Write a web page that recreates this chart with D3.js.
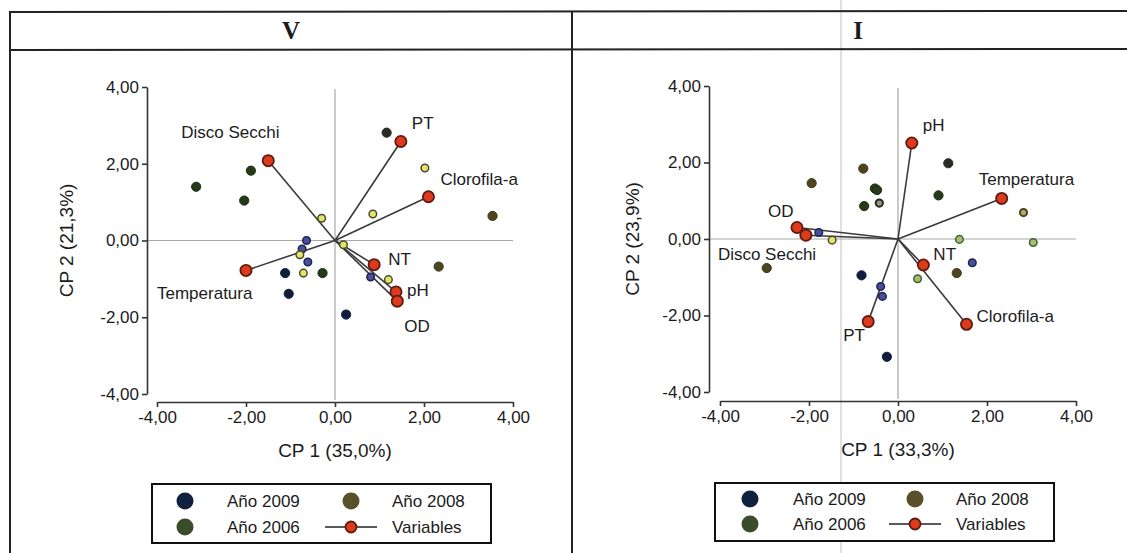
<!DOCTYPE html>
<html>
<head>
<meta charset="utf-8">
<title>CP 1 / CP 2 - V e I</title>
<script src="https://d3js.org/d3.v7.min.js" charset="utf-8"></script>
<style>
  body { margin: 0; background: #fff; }
  text { font-family: "Liberation Sans", Arial, sans-serif; fill: #1b1b1b; }
</style>
</head>
<body>
<script>
// ---- data ----
var panelTitles = ["V", "I"];
var axisTicks = [-4, -2, 0, 2, 4];
var xTitles = ["CP 1 (35,0%)", "CP 1 (33,3%)"];
var yTitles = ["CP 2 (21,3%)", "CP 2 (23,9%)"];

// panel V: variables (loadings)
var varNamesV = ["Disco Secchi", "PT", "Clorofila-a", "NT", "pH", "OD", "Temperatura"];
var varCP1V = [-1.50, 1.48, 2.10, 0.88, 1.37, 1.40, -2.00];
var varCP2V = [2.08, 2.58, 1.14, -0.63, -1.34, -1.58, -0.78];

// panel V: observations
var obsCP1V = [-3.12, -1.89, -2.04, -0.28, 1.16, 3.54, 2.33, -1.12, -1.04, 0.25, -0.64, -0.74, -0.61, 0.80, 2.02, 0.85, -0.30, 0.19, -0.79, -0.71, 1.20];
var obsCP2V = [1.40, 1.82, 1.04, -0.85, 2.81, 0.64, -0.68, -0.85, -1.39, -1.93, 0.00, -0.22, -0.56, -0.95, 1.89, 0.69, 0.58, -0.11, -0.37, -0.85, -1.02];
var obsTypeV = ["g", "g", "g", "g", "k", "o", "o", "n", "n", "n", "b", "b", "b", "b", "y", "y", "y", "y", "y", "y", "y"];

// panel I: variables
var varNamesI = ["pH", "Temperatura", "NT", "Clorofila-a", "PT", "OD", "Disco Secchi"];
var varCP1I = [0.31, 2.33, 0.57, 1.54, -0.67, -2.27, -2.07];
var varCP2I = [2.51, 1.06, -0.68, -2.23, -2.16, 0.30, 0.10];

// panel I: observations
var obsCP1I = [-1.94, -0.78, -2.95, 1.32, 2.82, -0.52, -0.47, -0.76, 0.91, -0.42, 1.13, -0.82, -0.25, -1.78, -0.39, -0.35, 1.67, -1.48, 1.38, 3.04, 0.44];
var obsCP2I = [1.46, 1.84, -0.76, -0.89, 0.69, 1.32, 1.28, 0.86, 1.14, 0.94, 1.98, -0.95, -3.08, 0.17, -1.24, -1.50, -0.62, -0.03, -0.01, -0.09, -1.04];
var obsTypeI = ["o", "o", "o", "o", "or", "g", "g", "g", "g", "gr", "k", "n", "n", "b", "b", "b", "b", "y", "lg", "lg", "lg"];

var legendLabels = ["Año 2009", "Año 2008", "Año 2006", "Variables"];

// ---- styles ----
var pointStyle = {
  n:  {fill: "#111d3d", stroke: "#111d3d", r: 4.6, sw: 1},
  o:  {fill: "#4c4620", stroke: "#3e3918", r: 4.6, sw: 1},
  g:  {fill: "#263a1a", stroke: "#1e2f14", r: 4.6, sw: 1},
  k:  {fill: "#2a2a26", stroke: "#2a2a26", r: 4.6, sw: 1},
  b:  {fill: "#4a4f99", stroke: "#1b2550", r: 3.8, sw: 1.5},
  y:  {fill: "#e4e46c", stroke: "#4a4a2c", r: 3.8, sw: 1.5},
  lg: {fill: "#a3bd74", stroke: "#43602e", r: 3.8, sw: 1.5},
  or: {fill: "#b0a870", stroke: "#4c4620", r: 3.6, sw: 2},
  gr: {fill: "#9a9a80", stroke: "#222c18", r: 3.6, sw: 2}
};
var legendColors = ["#10203f", "#585028", "#3a4c2a"];
var varFill = "#dd3a1e", varStroke = "#5c1c10";

var fmt = d3.formatLocale({decimal: ",", thousands: ".", grouping: [3], currency: ["", ""], minus: "-"}).format(".2f");

var W = 1127, H = 553;
var svg = d3.select("body").append("svg").attr("width", W).attr("height", H);

// scan fold line (faint)
svg.append("line").attr("x1", 841).attr("x2", 841).attr("y1", 0).attr("y2", H)
  .style("stroke", "#d6d6d6").style("stroke-width", 1.5);

// table frame
svg.append("line").attr("x1", 10).attr("x2", W).attr("y1", 12).attr("y2", 11).style("stroke", "#222").style("stroke-width", 2);
svg.append("line").attr("x1", 10).attr("x2", W).attr("y1", 50).attr("y2", 49).style("stroke", "#222").style("stroke-width", 2);
svg.append("line").attr("x1", 10).attr("x2", 10).attr("y1", 11).attr("y2", H).style("stroke", "#222").style("stroke-width", 2);
svg.append("line").attr("x1", 572).attr("x2", 572).attr("y1", 11).attr("y2", H).style("stroke", "#222").style("stroke-width", 2);

var panels = [
  {title: panelTitles[0], titleX: 291, names: varNamesV, vx: varCP1V, vy: varCP2V, ox: obsCP1V, oy: obsCP2V, ot: obsTypeV,
   xr: [157, 513], yr: [394, 87], yAxisX: 147, xAxisY: 402, xTitle: xTitles[0], yTitle: yTitles[0], yTitleX: 66,
   labelOff: {"Disco Secchi": [-87, -29], "PT": [11, -18], "Clorofila-a": [12, -18], "NT": [14, -6], "pH": [11, -2], "OD": [7, 25], "Temperatura": [-89, 23]},
   legend: {x: 152, y: 484, w: 339, h: 59, c1: 185, t1: 227, c2: 351, t2: 392, r1: 501, r2: 527}},
  {title: panelTitles[1], titleX: 858, names: varNamesI, vx: varCP1I, vy: varCP2I, ox: obsCP1I, oy: obsCP2I, ot: obsTypeI,
   xr: [720, 1076], yr: [392, 86], yAxisX: 709, xAxisY: 401, xTitle: xTitles[1], yTitle: yTitles[1], yTitleX: 632,
   labelOff: {"pH": [11, -18], "Temperatura": [-23, -19], "NT": [10, -11], "Clorofila-a": [10, -8], "PT": [-25, 13], "OD": [-29, -16], "Disco Secchi": [-88, 19]},
   legend: {x: 715, y: 483, w: 339, h: 58, c1: 750, t1: 793, c2: 915, t2: 956, r1: 499, r2: 524}}
];

panels.forEach(function(p) {
  var x = d3.scaleLinear().domain([-4, 4]).range(p.xr);
  var y = d3.scaleLinear().domain([-4, 4]).range(p.yr);
  var g = svg.append("g");

  g.append("text").attr("x", p.titleX).attr("y", 39).attr("text-anchor", "middle")
    .style("font-family", "'Liberation Serif', 'Times New Roman', serif").style("font-weight", "bold")
    .style("font-size", "25px").text(p.title);

  // zero reference lines
  g.append("line").attr("x1", x(0)).attr("x2", x(0)).attr("y1", y(4) + 2).attr("y2", p.xAxisY - 2)
    .style("stroke", "#a8a8a8").style("stroke-width", 1.2);
  g.append("line").attr("x1", p.yAxisX).attr("x2", x(4)).attr("y1", y(0)).attr("y2", y(0))
    .style("stroke", "#a8a8a8").style("stroke-width", 1.2);

  // axes
  var ya = g.append("g").attr("transform", "translate(" + p.yAxisX + ",0)")
    .call(d3.axisLeft(y).tickValues(axisTicks).tickFormat(fmt).tickSize(5).tickSizeOuter(0).tickPadding(3));
  var xa = g.append("g").attr("transform", "translate(0," + p.xAxisY + ")")
    .call(d3.axisBottom(x).tickValues(axisTicks).tickFormat(fmt).tickSize(5).tickSizeOuter(0).tickPadding(4));
  [ya, xa].forEach(function(a) {
    a.attr("font-family", null).attr("font-size", null);
    a.selectAll("path, line").style("stroke", "#333").style("stroke-width", 1.6);
    a.selectAll("text").style("font-size", "17px").style("fill", "#1b1b1b");
  });

  g.append("text").attr("x", x(0)).attr("y", p.xAxisY + 55).attr("text-anchor", "middle")
    .style("font-size", "19px").text(p.xTitle);
  g.append("text").attr("transform", "translate(" + p.yTitleX + "," + y(0) + ") rotate(-90)")
    .attr("dy", "0.35em").attr("text-anchor", "middle").style("font-size", "19px").text(p.yTitle);

  // variable vectors
  var vars = p.names.map(function(n, i) { return {name: n, cx: p.vx[i], cy: p.vy[i]}; });
  g.selectAll(".vec").data(vars).enter().append("line")
    .attr("x1", x(0)).attr("y1", y(0))
    .attr("x2", function(d) { return x(d.cx); }).attr("y2", function(d) { return y(d.cy); })
    .style("stroke", "#3a3a3a").style("stroke-width", 1.6);

  // observations
  var obs = p.ox.map(function(v, i) { return {cx: v, cy: p.oy[i], t: p.ot[i]}; });
  g.selectAll(".obs").data(obs).enter().append("circle")
    .attr("cx", function(d) { return x(d.cx); }).attr("cy", function(d) { return y(d.cy); })
    .attr("r", function(d) { return pointStyle[d.t].r; })
    .style("fill", function(d) { return pointStyle[d.t].fill; })
    .style("stroke", function(d) { return pointStyle[d.t].stroke; })
    .style("stroke-width", function(d) { return pointStyle[d.t].sw; });

  g.selectAll(".var").data(vars).enter().append("circle")
    .attr("cx", function(d) { return x(d.cx); }).attr("cy", function(d) { return y(d.cy); })
    .attr("r", 5.6).style("fill", varFill).style("stroke", varStroke).style("stroke-width", 1.8);

  g.selectAll(".lbl").data(vars).enter().append("text")
    .attr("x", function(d) { return x(d.cx) + p.labelOff[d.name][0]; })
    .attr("y", function(d) { return y(d.cy) + p.labelOff[d.name][1]; })
    .attr("dy", "0.35em").style("font-size", "17px")
    .text(function(d) { return d.name; });

  // legend
  var L = p.legend;
  g.append("rect").attr("x", L.x).attr("y", L.y).attr("width", L.w).attr("height", L.h)
    .style("fill", "#fff").style("stroke", "#111").style("stroke-width", 2);
  var items = [
    {cx: L.c1, tx: L.t1, cy: L.r1, c: legendColors[0], label: legendLabels[0]},
    {cx: L.c2, tx: L.t2, cy: L.r1, c: legendColors[1], label: legendLabels[1]},
    {cx: L.c1, tx: L.t1, cy: L.r2, c: legendColors[2], label: legendLabels[2]}
  ];
  items.forEach(function(it) {
    g.append("circle").attr("cx", it.cx).attr("cy", it.cy).attr("r", 8.5).style("fill", it.c);
    g.append("text").attr("x", it.tx).attr("y", it.cy).attr("dy", "0.35em").style("font-size", "17px").text(it.label);
  });
  g.append("line").attr("x1", L.c2 - 26).attr("x2", L.c2 + 26).attr("y1", L.r2).attr("y2", L.r2)
    .style("stroke", "#222").style("stroke-width", 1.6);
  g.append("circle").attr("cx", L.c2).attr("cy", L.r2).attr("r", 5.5)
    .style("fill", varFill).style("stroke", varStroke).style("stroke-width", 1.8);
  g.append("text").attr("x", L.t2).attr("y", L.r2).attr("dy", "0.35em").style("font-size", "17px").text(legendLabels[3]);
});
</script>
</body>
</html>
